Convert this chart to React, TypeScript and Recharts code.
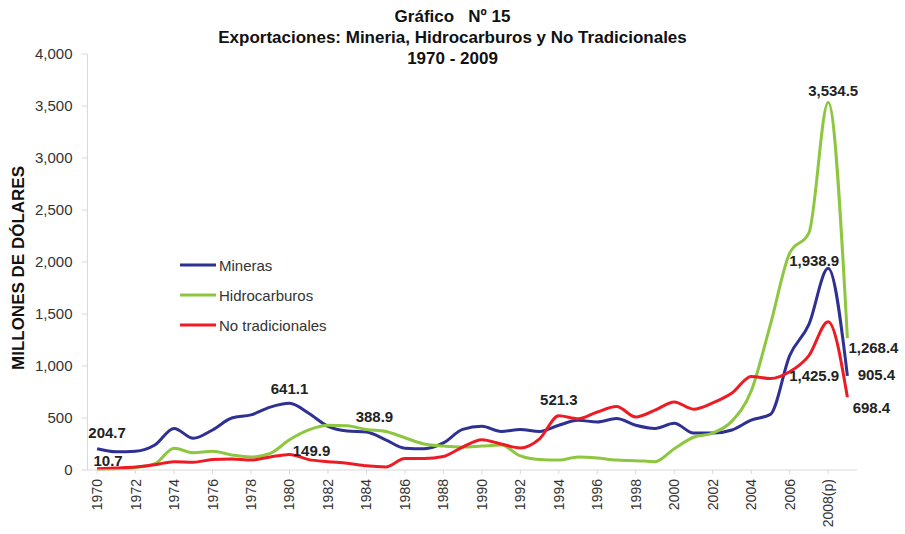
import React from "react";
import { LineChart, Line, XAxis, YAxis, Legend, LabelList } from "recharts";

const years = [
  "1970", "1971", "1972", "1973", "1974", "1975", "1976", "1977", "1978", "1979",
  "1980", "1981", "1982", "1983", "1984", "1985", "1986", "1987", "1988", "1989",
  "1990", "1991", "1992", "1993", "1994", "1995", "1996", "1997", "1998", "1999",
  "2000", "2001", "2002", "2003", "2004", "2005", "2006", "2007", "2008(p)", "2009",
];

const mineras = [
  204.7, 175, 180, 240, 400, 305, 385, 500, 530, 605,
  641.1, 545, 420, 375, 365, 290, 210, 205, 260, 390,
  420, 370, 390, 370, 430, 478, 462, 495, 430, 400,
  450, 355, 355, 385, 480, 535, 1100, 1400, 1938.9, 905.4,
];

const hidrocarburos = [
  8, 12, 25, 60, 210, 165, 180, 145, 125, 160,
  290, 385, 430, 425, 388.9, 370, 310, 250, 230, 220,
  230, 240, 135, 100, 95, 125, 115, 95, 90, 80,
  205, 315, 355, 470, 760, 1400, 2085, 2280, 3534.5, 1268.4,
];

const noTradicionales = [
  10.7, 20, 30, 50, 80, 75, 100, 105, 95, 125,
  149.9, 100, 80, 65, 40, 30, 110, 110, 130, 220,
  292, 250, 212, 300, 521.3, 492, 558, 610, 510, 575,
  655, 585, 645, 740, 900, 880, 945, 1100, 1425.9, 698.4,
];

const yTicks = [0, 500, 1000, 1500, 2000, 2500, 3000, 3500, 4000];

const series = [
  { key: "mineras", name: "Mineras", color: "#2e3192" },
  { key: "hidrocarburos", name: "Hidrocarburos", color: "#8dc63f" },
  { key: "noTradicionales", name: "No tradicionales", color: "#ed1c24" },
];

// which points get a value label, with the label offset from the point
const labelOffsets: Record<string, Record<string, [number, number]>> = {
  mineras: { "1970": [10, -16], "1980": [0, -15], "2008(p)": [-14, -8], "2009": [29, -1] },
  hidrocarburos: { "1984": [8, -13], "2008(p)": [5, -12], "2009": [26, 9] },
  noTradicionales: { "1970": [11, -8], "1980": [22, -4], "1994": [0, -16], "2008(p)": [-14, 54], "2009": [24, 10] },
};

const data = years.map((year, i) => ({
  year,
  mineras: mineras[i],
  hidrocarburos: hidrocarburos[i],
  noTradicionales: noTradicionales[i],
}));

const FONT = "'Liberation Sans', Arial, sans-serif";

const fmt = (v: number) =>
  v.toLocaleString("en-US", { minimumFractionDigits: 1, maximumFractionDigits: 1 });

const makeLabel = (key: string) => (props: any) => {
  const { x, y, index } = props;
  const year = years[index];
  const off = labelOffsets[key][year];
  if (!off) return null;
  const src = key === "mineras" ? mineras : key === "hidrocarburos" ? hidrocarburos : noTradicionales;
  return (
    <text
      x={x + off[0]}
      y={y + off[1]}
      textAnchor="middle"
      dominantBaseline="central"
      fontFamily={FONT}
      fontSize={15}
      fontWeight="bold"
      fill="#222"
    >
      {fmt(src[index])}
    </text>
  );
};

const XTick = (props: any) => {
  const { x, y, payload } = props;
  const tx = x + 5;
  const ty = y + 3;
  return (
    <text
      x={tx}
      y={ty}
      transform={`rotate(-90 ${tx} ${ty})`}
      textAnchor="end"
      fontFamily={FONT}
      fontSize={14}
      fill="#333"
    >
      {payload.value}
    </text>
  );
};

const LegendBox = () => (
  <div style={{ fontFamily: FONT, fontSize: 15, color: "#333" }}>
    {series.map((s) => (
      <div key={s.key} style={{ display: "flex", alignItems: "center", height: 30 }}>
        <svg width={36} height={6} style={{ marginRight: 3 }}>
          <line x1={0} y1={3} x2={36} y2={3} stroke={s.color} strokeWidth={3} />
        </svg>
        <span>{s.name}</span>
      </div>
    ))}
  </div>
);

export default function App() {
  return (
    <div
      style={{
        position: "absolute",
        left: 0,
        top: 0,
        width: 905,
        height: 534,
        background: "#fff",
        fontFamily: FONT,
      }}
    >
      <div
        style={{
          position: "absolute",
          left: 0,
          top: 6,
          width: 905,
          textAlign: "center",
          fontWeight: "bold",
          fontSize: 17,
          lineHeight: "21px",
          color: "#111",
        }}
      >
        <div>Gráfico&nbsp;&nbsp;&nbsp;Nº 15</div>
        <div>Exportaciones: Mineria, Hidrocarburos y No Tradicionales</div>
        <div>1970 - 2009</div>
      </div>
      <div
        style={{
          position: "absolute",
          left: 19,
          top: 268,
          transform: "translate(-50%, -50%) rotate(-90deg)",
          whiteSpace: "nowrap",
          fontWeight: "bold",
          fontSize: 17,
          color: "#111",
        }}
      >
        MILLONES DE DÓLARES
      </div>
      <LineChart
        width={905}
        height={534}
        data={data}
        margin={{ top: 54, right: 48, bottom: 0, left: 0 }}
      >
        <XAxis
          dataKey="year"
          interval={1}
          height={64}
          padding={{ left: 9.6, right: 9.6 }}
          axisLine={{ stroke: "#d9d9d9" }}
          tickLine={{ stroke: "#d9d9d9" }}
          tickSize={4}
          tick={<XTick />}
        />
        <YAxis
          width={87.5}
          domain={[0, 4000]}
          ticks={yTicks}
          interval={0}
          axisLine={{ stroke: "#d9d9d9" }}
          tickLine={{ stroke: "#d9d9d9" }}
          tickSize={6}
          tickMargin={9}
          tickFormatter={(v: number) => v.toLocaleString("en-US")}
          tick={{ fill: "#333", fontSize: 15, fontFamily: FONT }}
        />
        <Legend
          layout="vertical"
          align="center"
          verticalAlign="middle"
          wrapperStyle={{ left: 180, top: 250, width: 200 }}
          content={<LegendBox />}
        />
        {series.map((s) => (
          <Line
            key={s.key}
            type="monotone"
            dataKey={s.key}
            name={s.name}
            stroke={s.color}
            strokeWidth={3}
            dot={false}
            activeDot={false}
            isAnimationActive={false}
          >
            <LabelList dataKey={s.key} content={makeLabel(s.key)} />
          </Line>
        ))}
      </LineChart>
    </div>
  );
}
